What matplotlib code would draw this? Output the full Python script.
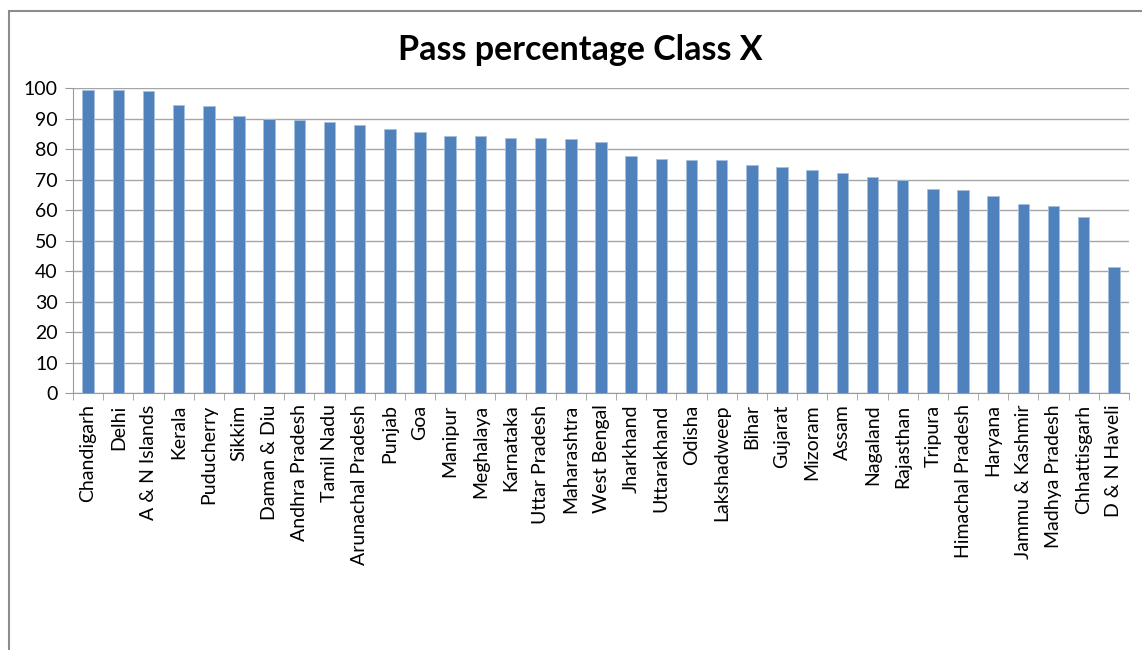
import matplotlib.pyplot as plt
from matplotlib.patches import Rectangle
import numpy as np

plt.rcParams['font.family'] = ['Lato', 'DejaVu Sans']

# Data
states = ['Chandigarh', 'Delhi', 'A & N Islands', 'Kerala', 'Puducherry', 'Sikkim',
          'Daman & Diu', 'Andhra Pradesh', 'Tamil Nadu', 'Arunachal Pradesh', 'Punjab',
          'Goa', 'Manipur', 'Meghalaya', 'Karnataka', 'Uttar Pradesh', 'Maharashtra',
          'West Bengal', 'Jharkhand', 'Uttarakhand', 'Odisha', 'Lakshadweep', 'Bihar',
          'Gujarat', 'Mizoram', 'Assam', 'Nagaland', 'Rajasthan', 'Tripura',
          'Himachal Pradesh', 'Haryana', 'Jammu & Kashmir', 'Madhya Pradesh',
          'Chhattisgarh', 'D & N Haveli']
pass_pct = [99.4, 99.4, 99.1, 94.5, 94.2, 90.8, 90.0, 89.5, 88.9, 87.9, 86.6,
            85.6, 84.3, 84.3, 83.6, 83.6, 83.3, 82.4, 77.9, 76.9, 76.6, 76.6, 75.0,
            74.3, 73.3, 72.2, 71.0, 69.9, 67.0, 66.7, 64.7, 62.0, 61.3,
            57.7, 41.3]
yticks = list(range(0, 101, 10))

W, H = 1142, 650
fig = plt.figure(figsize=(W / 100, H / 100), dpi=100)
ax = fig.add_axes([73 / W, (H - 393.3) / H, (1129 - 73) / W, (393.3 - 88.3) / H])

x = np.arange(len(states))
ax.bar(x, pass_pct, width=0.38, color='#4F81BD', edgecolor='#A7C0DE', linewidth=0.6, zorder=3)

ax.set_xlim(-0.5, len(states) - 0.5)
ax.set_ylim(0, 100)
ax.set_yticks(yticks)
ax.set_xticks(x)
ax.set_xticklabels(states, rotation=90, fontsize=14)
ax.set_xticks(np.arange(len(states) + 1) - 0.5, minor=True)
ax.tick_params(axis='x', which='major', length=0, pad=8)
ax.tick_params(axis='x', which='minor', length=5, color='#9a9a9a', direction='out')
ax.tick_params(axis='y', length=6, color='#9a9a9a', labelsize=14, pad=5)
ax.grid(axis='y', color='#a6a6a6', linewidth=1.0, zorder=0)

for side in ['top', 'right']:
    ax.spines[side].set_visible(False)
ax.spines['left'].set_color('#9a9a9a')
ax.spines['bottom'].set_color('#9a9a9a')

fig.text(580 / W, 1 - 50 / H, 'Pass percentage Class X', ha='center', va='center',
         fontsize=24.5, fontweight='bold')

# chart frame
fig.patches.append(Rectangle((9 / W, -0.2), 1.2, 1.2 - 11 / H, transform=fig.transFigure,
                             fill=False, edgecolor='#8c8c8c', linewidth=1.5))

fig.savefig('out.png', dpi=100)
